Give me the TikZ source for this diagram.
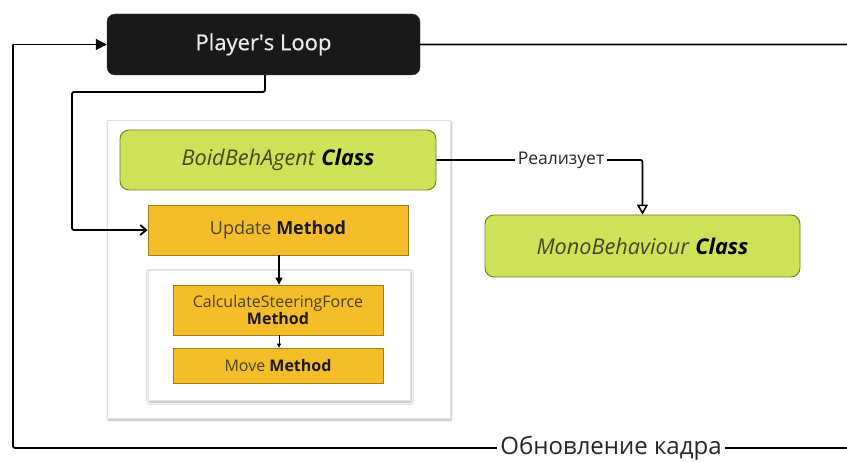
\documentclass[tikz,border=0pt]{standalone}
\usepackage{fontspec}
\setmainfont{Open Sans}
\usetikzlibrary{arrows.meta,shadows.blur}
\definecolor{limefill}{HTML}{CDE256}
\definecolor{limeedge}{HTML}{6E7D2C}
\definecolor{ambfill}{HTML}{F5BD2A}
\definecolor{ambedge}{HTML}{A07E1C}
\definecolor{paneledge}{HTML}{E2E2E2}
\definecolor{softtext}{HTML}{4A4426}
\tikzset{
  loopbox/.style={draw=black!80, fill=black!90, rounded corners=8pt, text=white!92!black,
    minimum width=313pt, minimum height=61pt,
    font=\fontsize{22}{25}\selectfont\addfontfeature{FakeBold=0.6}},
  panel/.style={draw=paneledge, fill=white, line width=0.8pt,
    blur shadow={shadow xshift=1pt, shadow yshift=-2pt, shadow blur steps=6, shadow opacity=30}},
  classbox/.style={draw=limeedge, fill=limefill, rounded corners=9pt, line width=0.9pt,
    font=\fontsize{21.7}{25}\selectfont, text=softtext},
  methbox/.style={draw=ambedge, fill=ambfill, line width=0.8pt, text=softtext,
    font=\fontsize{16}{18}\selectfont, align=center, inner sep=0pt},
  flow/.style={line width=1.8pt, rounded corners=2pt},
  thin/.style={line width=1.3pt},
  lbl/.style={fill=white, inner sep=3pt, text=black!85},
}
\begin{document}
\begin{tikzpicture}[x=1pt, y=-1pt]
\useasboundingbox (0,0) rectangle (847,462);
\clip (0,0) rectangle (847,462);

% main loop node
\node[loopbox] (loop) at (263.5,44.5) {Player\textquotesingle s Loop};

% panels
\node[panel, minimum width=343pt, minimum height=298pt] (outer) at (278.5,269) {};
\node[classbox, minimum width=316pt, minimum height=60pt] (boid) at (278,160)
  {\textit{BoidBehAgent} \textbf{\textit{\color{black}Class}}};
\node[methbox, minimum width=260pt, minimum height=50pt, font=\fontsize{18}{20}\selectfont] (update) at (278,230)
  {Update \textbf{\color{black!90}Method}};
\node[panel, minimum width=262pt, minimum height=130pt] (inner) at (279,335) {};
\node[methbox, minimum width=210pt, minimum height=50pt] (calc) at (278,310)
  {CalculateSteeringForce\\[-1pt]\textbf{\color{black!90}Method}};
\node[methbox, minimum width=210pt, minimum height=35pt] (move) at (278,365.5)
  {Move \textbf{\color{black!90}Method}};

\node[classbox, minimum width=315pt, minimum height=62pt] (mono) at (642.5,246)
  {\textit{MonoBehaviour} \textbf{\textit{\color{black}Class}}};

% outer frame-refresh loop
\coordinate (rtop) at (870,44.5);
\coordinate (rbot) at (870,448);
\coordinate (lbot) at (13,448);
\coordinate (ltop) at (13,44.5);
\draw[flow] (loop.east) -- (rtop) -- (rbot) -- (lbot) -- (ltop);
\draw[flow, -{Triangle[length=11pt,width=11pt]}] (ltop) -- (loop.west);
\node[lbl, font=\fontsize{24}{27}\selectfont] (frame) at (611,448) {Обновление кадра};

% loop calls Update
\coordinate (d1) at (265,92);
\coordinate (d2) at (72,92);
\draw[flow, -{Straight Barb[length=6pt,width=10pt]}] (loop.south -| d1) -- (d1) -- (d2) |- (update.west);

% method chain
\draw[thin, -{Triangle[length=7pt,width=7pt]}] (update.south -| 279,0) -- (calc.north -| 279,0);
\draw[line width=0.9pt, -{Triangle[length=4pt,width=4pt]}] (calc.south -| 279,0) -- (move.north -| 279,0);

% implements
\draw[flow, -{Triangle[open,length=10pt,width=11pt,line width=1.5pt]}] (boid.east) -| (mono.north);
\node[lbl, font=\fontsize{17.5}{20}\selectfont] (impl) at (561,160) {Реализует};
\end{tikzpicture}
\end{document}
